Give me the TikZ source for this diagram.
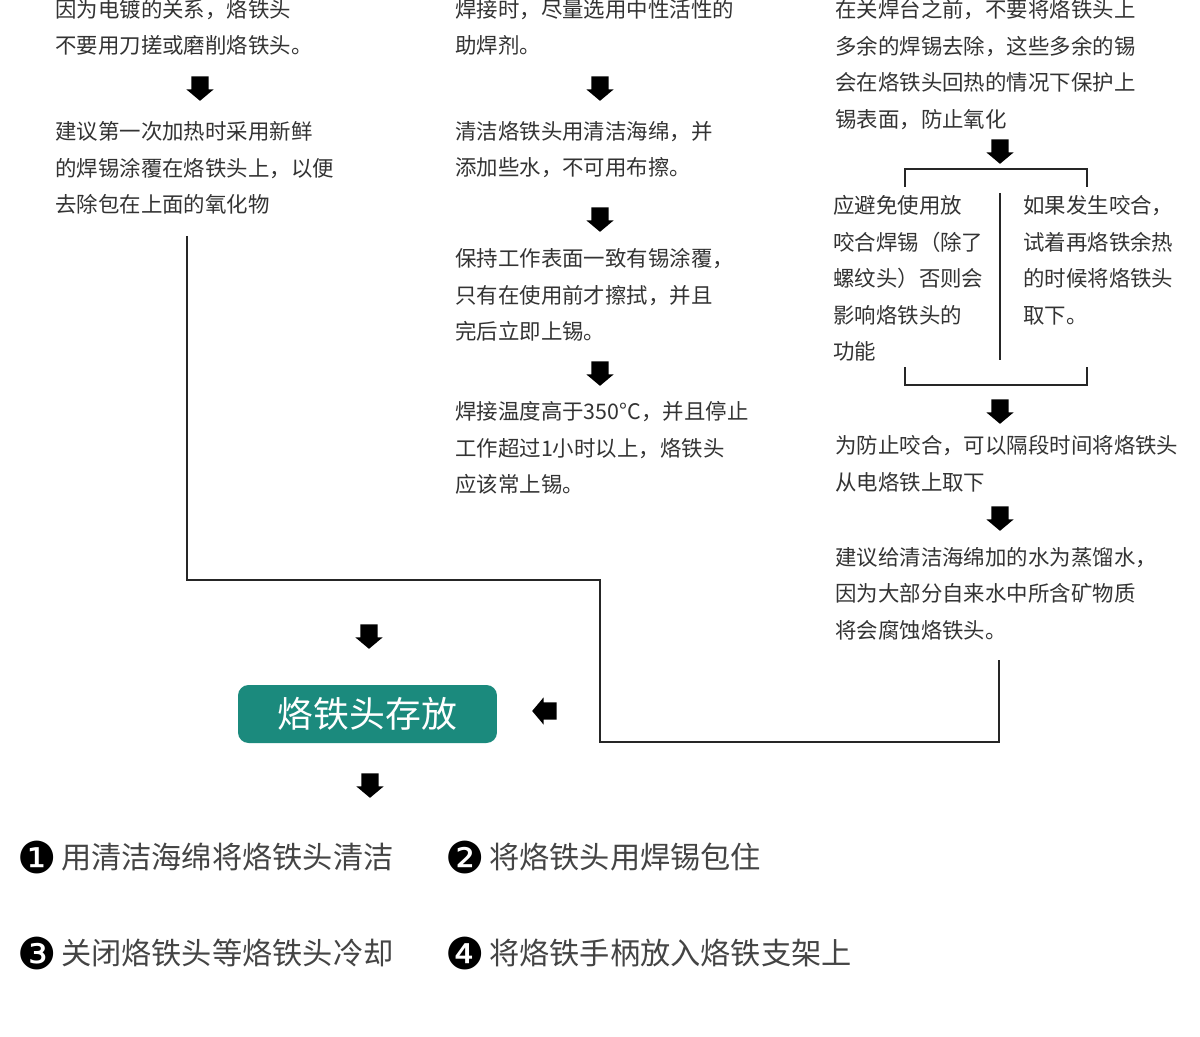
\documentclass[tikz,border=0pt]{standalone}
\usepackage{fontspec}
\usepackage{xcolor}
\usepackage{tikz}
\usetikzlibrary{shapes.arrows,positioning}
\setmainfont{Noto Sans CJK SC}
\newfontfamily\dingfont{DejaVu Sans}
\definecolor{ink}{HTML}{333333}
\definecolor{soft}{HTML}{444444}
\definecolor{wire}{HTML}{262626}
\definecolor{storebg}{HTML}{1B8A7D}
\newcommand{\numdot}[1]{{\dingfont\fontsize{25pt}{25pt}\selectfont\color{black}\raisebox{-2.6pt}{#1}}\hspace{2.5pt}}

\begin{document}
\begin{tikzpicture}[x=0.02cm,y=-0.02cm,
  txt/.style={anchor=north west,inner sep=0pt,align=left,text=ink,
              font=\fontsize{12.2pt}{20.8pt}\selectfont},
  darr/.style={single arrow,shape border rotate=270,fill=black,inner sep=4.7pt,
               single arrow head extend=2.8pt,single arrow tip angle=100,
               minimum height=13pt},
  larr/.style={darr,shape border rotate=180},
  link/.style={draw=wire,line width=1.1pt},
  store/.style={fill=storebg,rounded corners=6pt,text=white,
                minimum width=5.18cm,minimum height=1.16cm,
                font=\fontsize{20.4pt}{24pt}\selectfont},
  item/.style={anchor=west,inner sep=0pt,text=soft,
               font=\fontsize{17.2pt}{20pt}\selectfont}
]
\useasboundingbox (0,0) rectangle (1200,1037);
\clip (0,0) rectangle (1200,1037);
% left column
\node[txt] (c1a) at (55,-1) {因为电镀的关系，烙铁头\\不要用刀搓或磨削烙铁头。};
\node[darr] (a1) at (200,85) {};
\node[txt] (c1b) at (55,121) {建议第一次加热时采用新鲜\\的焊锡涂覆在烙铁头上，以便\\去除包在上面的氧化物};
% middle column
\node[txt] (c2a) at (455,-1) {焊接时，尽量选用中性活性的\\助焊剂。};
\node[darr] (a2) at (600,85) {};
\node[txt] (c2b) at (455,121) {清洁烙铁头用清洁海绵，并\\添加些水，不可用布擦。};
\node[darr] (a3) at (600,216) {};
\node[txt] (c2c) at (455,248) {保持工作表面一致有锡涂覆，\\只有在使用前才擦拭，并且\\完后立即上锡。};
\node[darr] (a4) at (600,370) {};
\node[txt] (c2d) at (455,401) {焊接温度高于350°C，并且停止\\工作超过1小时以上，烙铁头\\应该常上锡。};
% right column
\node[txt] (c3a) at (835,-1) {在关焊台之前，不要将烙铁头上\\多余的焊锡去除，这些多余的锡\\会在烙铁头回热的情况下保护上\\锡表面，防止氧化};
\node[darr] (a5) at (1000,148) {};
\node[txt] (c3l) at (833,195) {应避免使用放\\咬合焊锡（除了\\螺纹头）否则会\\影响烙铁头的\\功能};
\node[txt] (c3r) at (1023,195) {如果发生咬合，\\试着再烙铁余热\\的时候将烙铁头\\取下。};
\draw[link] (905,187) -- (905,169) -- (1087,169) -- (1087,187);
\draw[link] (1000,193) -- (1000,360);
\draw[link] (905,367) -- (905,385) -- (1087,385) -- (1087,367);
\node[darr] (a6) at (1000,408) {};
\node[txt] (c3b) at (835,435) {为防止咬合，可以隔段时间将烙铁头\\从电烙铁上取下};
\node[darr] (a7) at (1000,515) {};
\node[txt] (c3c) at (835,547) {建议给清洁海绵加的水为蒸馏水，\\因为大部分自来水中所含矿物质\\将会腐蚀烙铁头。};
% joining line
\coordinate (p1) at (187,236);
\coordinate (p2) at (999,660);
\coordinate (j1) at (600,580);
\coordinate (j2) at (600,742);
\draw[link] (p1) |- (j1) -- (j2) -| (p2);
% storage
\node[darr] (a8) at (369,633) {};
\node[store] (st) at (367.5,714) {烙铁头存放};
\node[larr] (a9) at (548,711) {};
\node[darr] (a10) at (370,782) {};
\node[item] (s1) at (17,857) {\numdot{❶}用清洁海绵将烙铁头清洁};
\node[item] (s2) at (445,857) {\numdot{❷}将烙铁头用焊锡包住};
\node[item] (s3) at (17,953) {\numdot{❸}关闭烙铁头等烙铁头冷却};
\node[item] (s4) at (445,953) {\numdot{❹}将烙铁手柄放入烙铁支架上};
\end{tikzpicture}
\end{document}
